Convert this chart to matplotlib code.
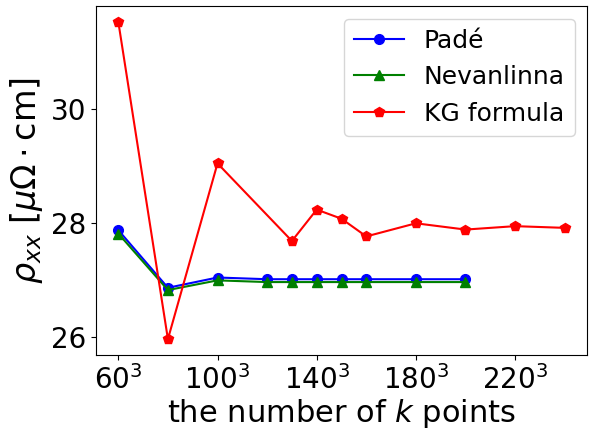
import matplotlib
matplotlib.use("Agg")
import matplotlib.pyplot as plt

pade_n = [60, 80, 100, 120, 130, 140, 150, 160, 180, 200]
pade_rho = [27.87, 26.86, 27.04, 27.01, 27.01, 27.01, 27.01, 27.01, 27.01, 27.01]

nev_n = [60, 80, 100, 120, 130, 140, 150, 160, 180, 200]
nev_rho = [27.81, 26.82, 26.99, 26.96, 26.96, 26.96, 26.96, 26.96, 26.96, 26.96]

kg_n = [60, 80, 100, 130, 140, 150, 160, 180, 200, 220, 240]
kg_rho = [31.52, 25.96, 29.04, 27.68, 28.23, 28.07, 27.76, 27.99, 27.88, 27.94, 27.91]

xticks = [60, 100, 140, 180, 220]
xticklabels = [r'$60^3$', r'$100^3$', r'$140^3$', r'$180^3$', r'$220^3$']
yticks = [26, 28, 30]

fig = plt.figure(figsize=(5.9, 4.3), dpi=100)
ax = fig.add_axes([96/590, 1-355/430, (587-96)/590, (355-6)/430])

ax.plot(pade_n, pade_rho, '-o', color='blue', label='Padé', markersize=7, linewidth=1.5)
ax.plot(nev_n, nev_rho, '-^', color='green', label='Nevanlinna', markersize=7, linewidth=1.5)
ax.plot(kg_n, kg_rho, '-p', color='red', label='KG formula', markersize=7, linewidth=1.5)

ax.set_xticks(xticks)
ax.set_xticklabels(xticklabels)
ax.set_yticks(yticks)
ax.tick_params(labelsize=20)
ax.set_xlabel(r'the number of $k$ points', fontsize=22, labelpad=1.5)
ax.set_ylabel(r'$\rho_{xx}$ [$\mu\Omega\cdot$cm]', fontsize=24)
ax.legend(fontsize=18, loc='upper right')

fig.savefig('out.png', dpi=100)
